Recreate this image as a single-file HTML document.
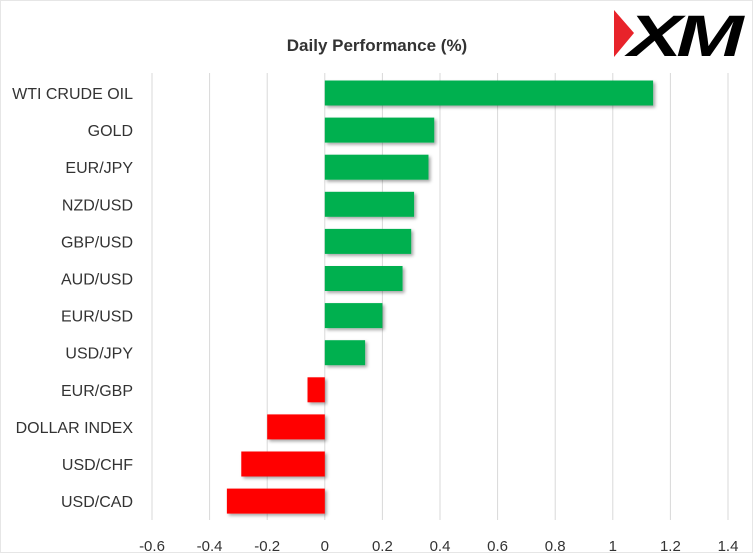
<!DOCTYPE html>
<html><head><meta charset="utf-8"><style>
html,body{margin:0;padding:0;background:#fff;}
body{width:753px;height:553px;overflow:hidden;font-family:"Liberation Sans",sans-serif;}
</style></head><body>
<svg width="753" height="553" id="chart" xmlns="http://www.w3.org/2000/svg">
<defs><filter id="sh" x="-10%" y="-20%" width="130%" height="160%"><feDropShadow dx="2" dy="2" stdDeviation="1.5" flood-color="#000" flood-opacity="0.35"/></filter></defs>
<rect x="0.5" y="0.5" width="752" height="552" fill="#fff" stroke="#e6e6e6"/>
<text x="377" y="51" text-anchor="middle" font-size="17" font-weight="bold" fill="#333">Daily Performance (%)</text>
<g>
<polygon points="614,10 634,33 614,57" fill="#e8232a"/>
<text x="628" y="56" font-size="58" font-weight="bold" font-style="italic" fill="#000" textLength="110" lengthAdjust="spacingAndGlyphs" letter-spacing="-4">XM</text>
</g>
<g id="grid"></g><g id="bars"></g><g id="labels"></g><g id="ticks"></g>
</svg>
<script>
const categories=["WTI CRUDE OIL","GOLD","EUR/JPY","NZD/USD","GBP/USD","AUD/USD","EUR/USD","USD/JPY","EUR/GBP","DOLLAR INDEX","USD/CHF","USD/CAD"];
const values=[1.14,0.38,0.36,0.31,0.30,0.27,0.20,0.14,-0.06,-0.20,-0.29,-0.34];
const tickValues=[-0.6,-0.4,-0.2,0,0.2,0.4,0.6,0.8,1,1.2,1.4];
const tickLabels=["-0.6","-0.4","-0.2","0","0.2","0.4","0.6","0.8","1","1.2","1.4"];
const NS="http://www.w3.org/2000/svg";
const x=v=>324.8+v*288;
const y=i=>93+i*37.1;
function mk(t,a,p){const e=document.createElementNS(NS,t);for(const k in a)e.setAttribute(k,a[k]);document.getElementById(p).appendChild(e);return e;}
tickValues.forEach((v,i)=>{
 const g=mk("line",{x1:x(v),x2:x(v),y1:73,y2:520,stroke:"#d9d9d9","stroke-width":1},"grid");
 
 
 const t=mk("text",{x:x(v),y:551,"text-anchor":"middle","font-size":15,fill:"#333"},"ticks");
 t.textContent=tickLabels[i];
 
 
});
categories.forEach((c,i)=>{
 const v=values[i];
 const r=mk("rect",{x:Math.min(x(0),x(v)),y:y(i)-12.5,width:Math.abs(x(v)-x(0)),height:25,fill:v>=0?"#00b050":"#ff0000",filter:"url(#sh)"},"bars");
 
 
 const t=mk("text",{x:133,y:y(i)+6,"text-anchor":"end","font-size":16,fill:"#333"},"labels");
 t.textContent=c;
 
 
});
</script>
</body></html>
